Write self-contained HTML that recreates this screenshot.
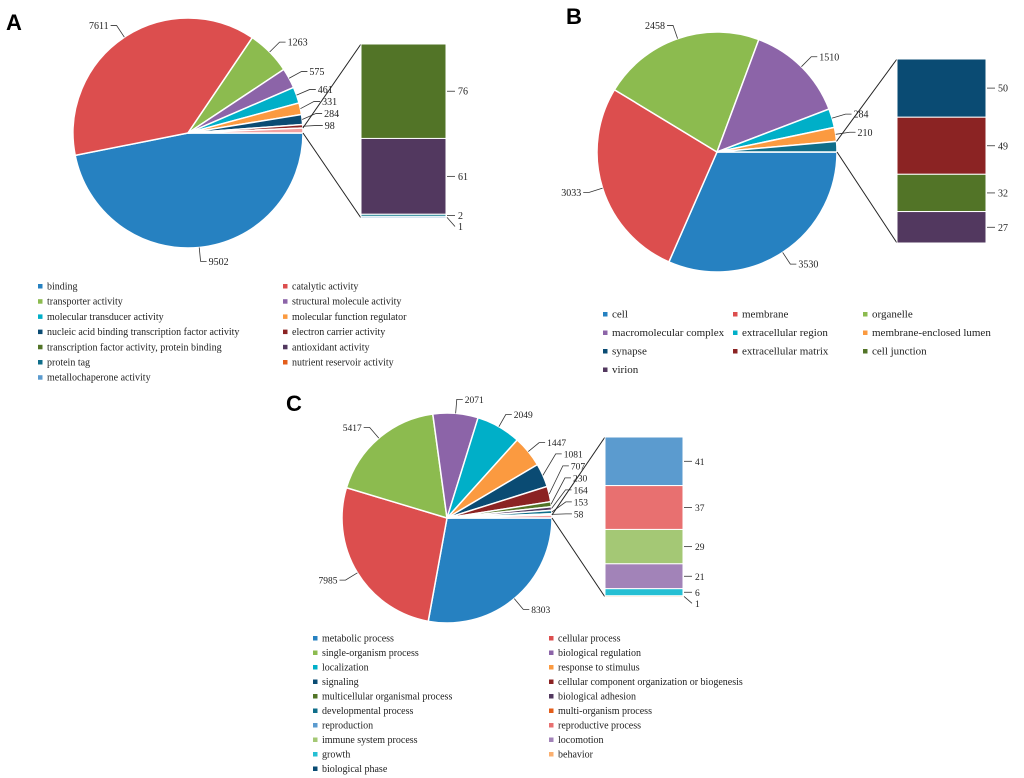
<!DOCTYPE html>
<html><head><meta charset="utf-8">
<style>
body{margin:0;background:#fff;}
svg{display:block;font-family:"Liberation Serif",serif;}
</style></head>
<body>
<svg id="chart" width="1024" height="778" viewBox="0 0 1024 778" xmlns="http://www.w3.org/2000/svg">
<text x="6" y="30" font-family="Liberation Sans,sans-serif" font-weight="bold" font-size="22">A</text>
<text x="566" y="24" font-family="Liberation Sans,sans-serif" font-weight="bold" font-size="22">B</text>
<text x="286" y="411" font-family="Liberation Sans,sans-serif" font-weight="bold" font-size="22">C</text>
</svg>
<script>
// Panel A data
const aCategories=["binding","catalytic activity","transporter activity","structural molecule activity","molecular transducer activity","molecular function regulator","nucleic acid binding transcription factor activity","electron carrier activity","transcription factor activity, protein binding","antioxidant activity","protein tag","nutrient reservoir activity","metallochaperone activity"];
const aPieValues=[9502,7611,1263,575,461,331,284,98,140];
const aPieLabels=["9502","7611","1263","575","461","331","284","98",""];
const aBarValues=[76,61,2,1];
const aBarLabels=["76","61","2","1"];
// Panel B data
const bCategories=["cell","membrane","organelle","macromolecular complex","extracellular region","membrane-enclosed lumen","synapse","extracellular matrix","cell junction","virion"];
const bPieValues=[3530,3033,2458,1510,284,210,158];
const bPieLabels=["3530","3033","2458","1510","284","210",""];
const bBarValues=[50,49,32,27];
const bBarLabels=["50","49","32","27"];
// Panel C data
const cCategories=["metabolic process","cellular process","single-organism process","biological regulation","localization","response to stimulus","signaling","cellular component organization or biogenesis","multicellular organismal process","biological adhesion","developmental process","multi-organism process","reproduction","reproductive process","immune system process","locomotion","growth","behavior","biological phase"];
const cPieValues=[8303,7985,5417,2071,2049,1447,1081,707,230,164,153,58,135];
const cPieLabels=["8303","7985","5417","2071","2049","1447","1081","707","230","164","153","58",""];
const cBarValues=[41,37,29,21,6,1];
const cBarLabels=["41","37","29","21","6","1"];

const C={blue:"#2681c1",red:"#dc4e4e",green:"#8cbb4f",purple:"#8c64a8",cyan:"#00afc8",orange:"#fb9a40",navy:"#0a4b73",dred:"#8b2323",olive:"#527427",dpurple:"#52385f",teal:"#0f6e8a",ored:"#e35d1a",lblue:"#5b9bcf",lred:"#e87070",lgreen:"#a4c875",lpurple:"#a283b8",lcyan:"#26bfd3",lorange:"#fbb070",pale:"#f2a0a0"};
const aLegendColors=[C.blue,C.red,C.green,C.purple,C.cyan,C.orange,C.navy,C.dred,C.olive,C.dpurple,C.teal,C.ored,C.lblue];
const bLegendColors=[C.blue,C.red,C.green,C.purple,C.cyan,C.orange,C.navy,C.dred,C.olive,C.dpurple];
const cLegendColors=[C.blue,C.red,C.green,C.purple,C.cyan,C.orange,C.navy,C.dred,C.olive,C.dpurple,C.teal,C.ored,C.lblue,C.lred,C.lgreen,C.lpurple,C.lcyan,C.lorange,C.navy];

const svg=document.getElementById('chart');
const NS="http://www.w3.org/2000/svg";
function mk(tag,attrs,parent){const e=document.createElementNS(NS,tag);for(const k in attrs)e.setAttribute(k,attrs[k]);(parent||svg).appendChild(e);return e;}

function pie(cx,cy,r,values,labels,colors,name,fs){
  const g=mk('g',{});
  
  
  const total=values.reduce((a,b)=>a+b,0);
  let a0=0;const labs=[];
  values.forEach((v,i)=>{
    const a1=a0+v/total*Math.PI*2;
    const x0=cx+r*Math.cos(a0),y0=cy+r*Math.sin(a0),x1=cx+r*Math.cos(a1),y1=cy+r*Math.sin(a1);
    const large=(a1-a0)>Math.PI?1:0;
    const p=mk('path',{d:`M${cx},${cy}L${x0},${y0}A${r},${r} 0 ${large} 1 ${x1},${y1}Z`,fill:colors[i],stroke:'#fff','stroke-width':1.5},g);
    
    
    const am=(a0+a1)/2;
    if(labels[i])labs.push({am,txt:labels[i],x:cx+(r+14)*Math.cos(am),y:cy+(r+14)*Math.sin(am)});
    a0=a1;
  });
  // spread right-side crowded labels near 0 angle
  const right=labs.filter(l=>Math.cos(l.am)>0.9).sort((a,b)=>b.y-a.y);
  for(let k=1;k<right.length;k++){if(right[k-1].y-right[k].y<12)right[k].y=right[k-1].y-12;}
  labs.forEach(l=>{
    const ex=cx+r*Math.cos(l.am),ey=cy+r*Math.sin(l.am);
    const right=Math.cos(l.am)>=0;
    const lx=l.x+(right?6:-6);
    mk('path',{d:`M${ex},${ey}L${l.x},${l.y}L${lx},${l.y}`,fill:'none',stroke:'#333','stroke-width':0.8},g);
    const t=mk('text',{x:lx+(right?2:-2),y:l.y+3.5,'font-size':fs,'text-anchor':right?'start':'end',fill:'#222'},g);
    t.textContent=l.txt;
    
    
  });
}
function bar(x,y,w,h,values,labels,colors,name,fs,cx,cy,r,endFrac){
  const g=mk('g',{});
  
  
  const total=values.reduce((a,b)=>a+b,0);
  const ang=-endFrac*Math.PI*2;
  mk('line',{x1:cx+r*Math.cos(ang),y1:cy+r*Math.sin(ang),x2:x,y2:y,stroke:'#222','stroke-width':1},g);
  mk('line',{x1:cx+r,y1:cy,x2:x,y2:y+h,stroke:'#222','stroke-width':1},g);
  let yy=y;let lastLy=-99;
  values.forEach((v,i)=>{
    const sh=v/total*h;
    const rc=mk('rect',{x,y:yy,width:w,height:sh,fill:colors[i],stroke:'#fff','stroke-width':1},g);
    
    
    let ly=yy+sh/2; if(ly-lastLy<11)ly=lastLy+11; lastLy=ly;
    mk('line',{x1:x+w+1,y1:yy+sh/2,x2:x+w+9,y2:ly,stroke:'#333','stroke-width':0.8},g);
    const t=mk('text',{x:x+w+12,y:ly+3.5,'font-size':fs,fill:'#222'},g);
    t.textContent=labels[i];
    
    
    yy+=sh;
  });
}
function legend(x0,y0,cols,colW,rowH,cats,colors,name,fs){
  const g=mk('g',{});
  
  
  cats.forEach((c,i)=>{
    const x=x0+(i%cols)*colW,y=y0+Math.floor(i/cols)*rowH;
    const m=mk('rect',{x,y:y-4,width:4.5,height:4.5,fill:colors[i]},g);
    
    
    const t=mk('text',{x:x+9,y:y+1.5,'font-size':fs,fill:'#222'},g);
    t.textContent=c;
    
    
  });
}
const aFrac=aPieValues[aPieValues.length-1]/aPieValues.reduce((a,b)=>a+b,0);
const bFrac=bPieValues[bPieValues.length-1]/bPieValues.reduce((a,b)=>a+b,0);
const cFrac=cPieValues[cPieValues.length-1]/cPieValues.reduce((a,b)=>a+b,0);

pie(188,133,115,aPieValues,aPieLabels,[C.blue,C.red,C.green,C.purple,C.cyan,C.orange,C.navy,C.dred,C.pale],'panel-a',10);
bar(361,44,85,174,aBarValues,aBarLabels,[C.olive,C.dpurple,"#4a9aa8",C.lblue],'panel-a',10,188,133,115,aFrac);
legend(38,288,2,245,15.2,aCategories,aLegendColors,'panel-a',10);

pie(717,152,120,bPieValues,bPieLabels,[C.blue,C.red,C.green,C.purple,C.cyan,C.orange,C.teal],'panel-b',10);
bar(897,59,89,184,bBarValues,bBarLabels,[C.navy,C.dred,C.olive,C.dpurple],'panel-b',10,717,152,120,bFrac);
legend(603,316,3,130,18.5,bCategories,bLegendColors,'panel-b',11);

pie(447,518,105,cPieValues,cPieLabels,[C.blue,C.red,C.green,C.purple,C.cyan,C.orange,C.navy,C.dred,C.olive,C.dpurple,C.teal,C.ored,C.pale],'panel-c',9.5);
bar(605,437,78,160,cBarValues,cBarLabels,[C.lblue,C.lred,C.lgreen,C.lpurple,C.lcyan,C.lorange],'panel-c',9.5,447,518,105,cFrac);
legend(313,640,2,236,14.5,cCategories,cLegendColors,'panel-c',10);
</script>
</body></html>
